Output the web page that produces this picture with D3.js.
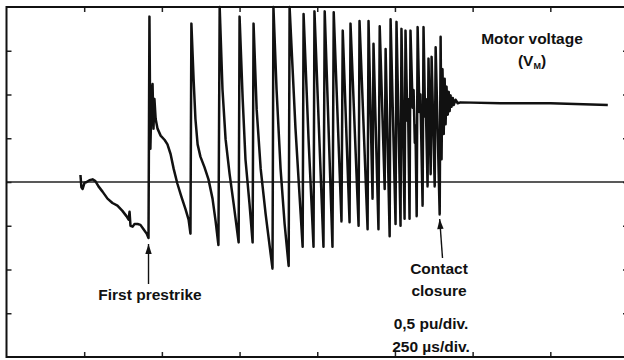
<!DOCTYPE html>
<html><head><meta charset="utf-8">
<script src="https://cdn.jsdelivr.net/npm/d3@7/dist/d3.min.js"></script>
<style>body{margin:0;background:#fff}svg{display:block}text{font-family:"Liberation Sans",Arial,sans-serif;font-weight:bold;fill:#111}</style>
</head><body>
<script>
// time in microseconds, motor voltage in pu
const timeUs = [238,241,245,251,258,267,277,286,296,309,325,341,357,373,386,393,396,399,406,412,422,431,441,451,457,
460,463,467,470,473,476,480,486,496,509,518,528,538,550,563,576,586,592,
595,602,608,615,624,637,650,663,673,682,
686,695,705,718,731,747,
750,760,769,782,792,
795,805,818,834,856,
859,869,882,895,908,
911,930,953,
956,972,988,
991,1020,
1024,1049,
1053,1078,1082,1104,1107,1133,1136,1162,1165,1178,1181,1197,1201,1217,1220,1233,1236,1252,1255,1268,1271,1281,
1284,1290,1292,1297,1300,1307,1310,1314,1316,1320,1323,1329,1332,1339,1342,1347,1349,1355,1358,1365,1368,1378,1381,1394,1397,
1400,1403,1407,1410,1413,1416,1420,1423,1426,1429,1432,1436,1439,1445,1452,1461,1590,1751,1935];
const voltagePu = [0.08,-0.06,-0.08,-0.01,0,0.02,0.03,0.01,-0.05,-0.11,-0.19,-0.24,-0.27,-0.33,-0.39,-0.43,-0.34,-0.50,-0.51,-0.48,-0.48,-0.49,-0.54,-0.59,-0.64,
1.89,0.38,1.01,1.12,0.61,0.95,0.72,0.61,0.53,0.48,0.43,0.32,0.15,-0.02,-0.17,-0.31,-0.43,-0.59,
1.81,1.18,0.72,0.43,0.29,0.17,0.03,-0.19,-0.45,-0.72,
2.0,1.06,0.49,0.09,-0.25,-0.69,
1.89,0.95,0.26,-0.25,-0.69,
1.81,0.83,0.15,-0.37,-0.99,
2.0,1.06,0.15,-0.48,-0.96,
2.0,0.61,-0.74,
1.92,0.49,-0.74,
1.95,-0.74,
1.95,-0.74,
1.94,-0.45,1.73,-0.46,1.81,-0.50,1.84,-0.54,1.84,-0.19,1.58,-0.54,1.78,-0.08,1.52,-0.62,1.86,-0.48,1.83,-0.50,1.75,-0.42,
1.73,0.70,0.95,-0.42,1.73,0.85,1.05,0.45,0.65,-0.39,1.77,0.80,1.0,-0.27,1.77,0.75,0.95,-0.05,1.41,0.09,1.43,-0.05,1.54,-0.37,1.66,
0.26,1.29,0.55,1.18,0.66,1.09,0.77,1.03,0.81,0.99,0.86,0.96,0.88,0.94,0.90,0.91,0.90,0.90,0.88];
const yTicks = [-1.5,-1,-0.5,0,0.5,1,1.5];
const xTicks = [250,500,750,1000,1250,1500,1750];
const labels = {title:"Motor voltage", prestrike:"First prestrike", contact:["Contact","closure"], scaleV:"0,5 pu/div.", scaleT:"250 µs/div."};

const W=624,H=360;
const svg=d3.select("body").append("svg").attr("width",W).attr("height",H);
const x=d3.scaleLinear().domain([0,2000]).range([6.5,628]);
const y=d3.scaleLinear().domain([-2,2]).range([357,7]);

// zero line
svg.append("line").attr("x1",x(0)).attr("x2",W).attr("y1",y(0)).attr("y2",y(0)).attr("stroke","#222").attr("stroke-width",1.3);

// ticks (inward)
const tl=5;
svg.append("g").attr("transform",`translate(${x(0)},0)`).call(d3.axisLeft(y).tickValues(yTicks).tickSize(-tl).tickFormat(""))
  .call(g=>g.select(".domain").remove());
svg.append("g").attr("transform",`translate(${x(2000)},0)`).call(d3.axisRight(y).tickValues(yTicks).tickSize(-tl).tickFormat(""))
  .call(g=>g.select(".domain").remove());
svg.append("g").attr("transform",`translate(0,${y(2)})`).call(d3.axisTop(x).tickValues(xTicks).tickSize(-tl).tickFormat(""))
  .call(g=>g.select(".domain").remove());
svg.append("g").attr("transform",`translate(0,${y(-2)})`).call(d3.axisBottom(x).tickValues(xTicks).tickSize(-tl).tickFormat(""))
  .call(g=>g.select(".domain").remove());
svg.selectAll(".tick line").attr("stroke","#222").attr("stroke-width",1.5);

// frame
svg.append("rect").attr("x",x(0)).attr("y",y(2)).attr("width",x(2000)-x(0)).attr("height",y(-2)-y(2))
  .attr("fill","none").attr("stroke","#111").attr("stroke-width",2);

// trace
const pts=timeUs.map((t,i)=>[t,voltagePu[i]]);
svg.append("path").datum(pts).attr("d",d3.line().x(d=>x(d[0])).y(d=>y(d[1])))
  .attr("fill","none").attr("stroke","#111").attr("stroke-width",2.5).attr("stroke-linejoin","round");

// arrows
function arrow(x1,y1,x2,y2){
  svg.append("line").attr("x1",x1).attr("y1",y1).attr("x2",x2).attr("y2",y2).attr("stroke","#111").attr("stroke-width",1.4);
  const a=Math.atan2(y2-y1,x2-x1), L=10, w=3.2;
  const bx=x2-L*Math.cos(a), by=y2-L*Math.sin(a);
  svg.append("path").attr("d",`M${x2},${y2}L${bx+w*Math.sin(a)},${by-w*Math.cos(a)}L${bx-w*Math.sin(a)},${by+w*Math.cos(a)}Z`).attr("fill","#111");
}
arrow(x(457),284,x(457),244);
arrow(442.5,258,x(1394),219);

// texts
const fs=15.5;
svg.append("text").attr("x",532).attr("y",44).attr("text-anchor","middle").attr("font-size",fs).text(labels.title);
const vm=svg.append("text").attr("x",532).attr("y",66).attr("text-anchor","middle").attr("font-size",fs);
vm.append("tspan").text("(V");
vm.append("tspan").attr("font-size",9).attr("dy",3).text("M");
vm.append("tspan").attr("dy",-3).text(")");
svg.append("text").attr("x",150).attr("y",300).attr("text-anchor","middle").attr("font-size",fs).text(labels.prestrike);
svg.append("text").attr("x",439).attr("y",274).attr("text-anchor","middle").attr("font-size",fs).text(labels.contact[0]);
svg.append("text").attr("x",439).attr("y",296).attr("text-anchor","middle").attr("font-size",fs).text(labels.contact[1]);
svg.append("text").attr("x",431).attr("y",329).attr("text-anchor","middle").attr("font-size",fs).text(labels.scaleV);
svg.append("text").attr("x",431).attr("y",352).attr("text-anchor","middle").attr("font-size",fs).text(labels.scaleT);
</script>
</body></html>
